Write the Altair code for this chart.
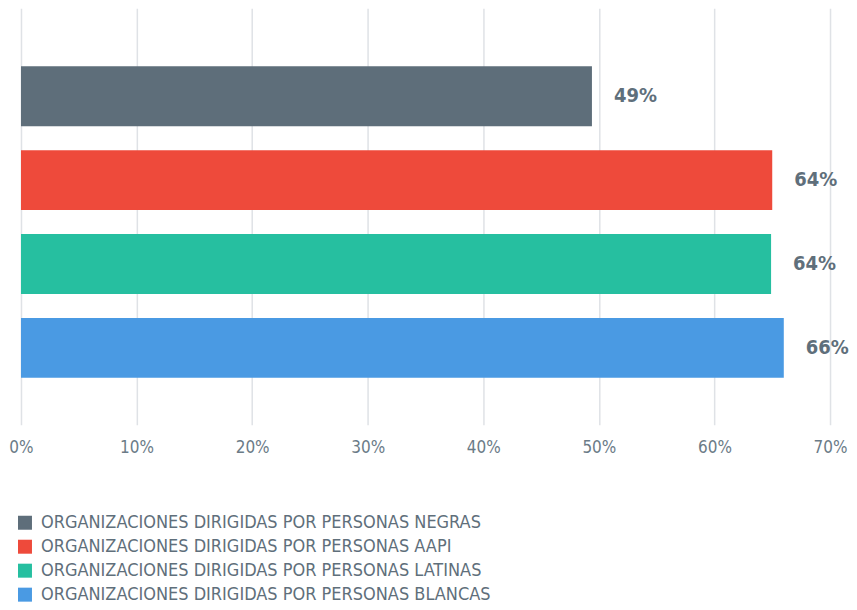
import altair as alt
import pandas as pd

categories = [
    "ORGANIZACIONES DIRIGIDAS POR PERSONAS NEGRAS",
    "ORGANIZACIONES DIRIGIDAS POR PERSONAS AAPI",
    "ORGANIZACIONES DIRIGIDAS POR PERSONAS LATINAS",
    "ORGANIZACIONES DIRIGIDAS POR PERSONAS BLANCAS",
]
values = [49.4, 65.0, 64.9, 66.0]
labels = ["49%", "64%", "64%", "66%"]
colors = ["#5e6e7a", "#ee4a3b", "#26bfa0", "#4a9ae3"]
x_ticks = [0, 10, 20, 30, 40, 50, 60, 70]

df = pd.DataFrame({"cat": categories, "val": values, "lab": labels})

FONT = "Liberation Sans Narrow, DejaVu Sans Condensed, Roboto, sans-serif"
TXT = "#5f6f7b"

base = alt.Chart(df).encode(
    y=alt.Y("cat:N", sort=categories, axis=None,
            scale=alt.Scale(paddingInner=0.2857, paddingOuter=0.625, align=0.552)),
)

bars = base.mark_bar().encode(
    x=alt.X("val:Q",
            scale=alt.Scale(domain=[0, 70], nice=False),
            axis=alt.Axis(values=x_ticks, labelExpr="datum.value + '%'", title=None,
                          grid=True, gridColor="#dfe2e6", gridWidth=1.5,
                          domain=False, ticks=False, labelPadding=15, labelFlush=False,
                          labelFontSize=17, labelColor="#6b7b87", labelFont=FONT)),
    color=alt.Color("cat:N", sort=categories,
                    scale=alt.Scale(domain=categories, range=colors),
                    legend=alt.Legend(title=None, orient="none", legendX=-5, legendY=506,
                                      direction="vertical", symbolType="square",
                                      symbolSize=196, symbolStrokeWidth=0,
                                      labelFontSize=18, labelColor=TXT, labelFont=FONT,
                                      labelLimit=700, rowPadding=6, labelOffset=7)),
)

text = base.mark_text(align="left", baseline="middle", dx=22, fontSize=20,
                      fontWeight="bold", color=TXT, font=FONT).encode(
    x="val:Q", text="lab:N"
)

chart = alt.layer(bars, text).properties(
    width=810, height=417,
    padding={"left": 0, "top": 0, "right": 0, "bottom": 0},
).configure_view(stroke=None)

chart.save("out.html", embed_options={"renderer": "svg", "actions": False})
